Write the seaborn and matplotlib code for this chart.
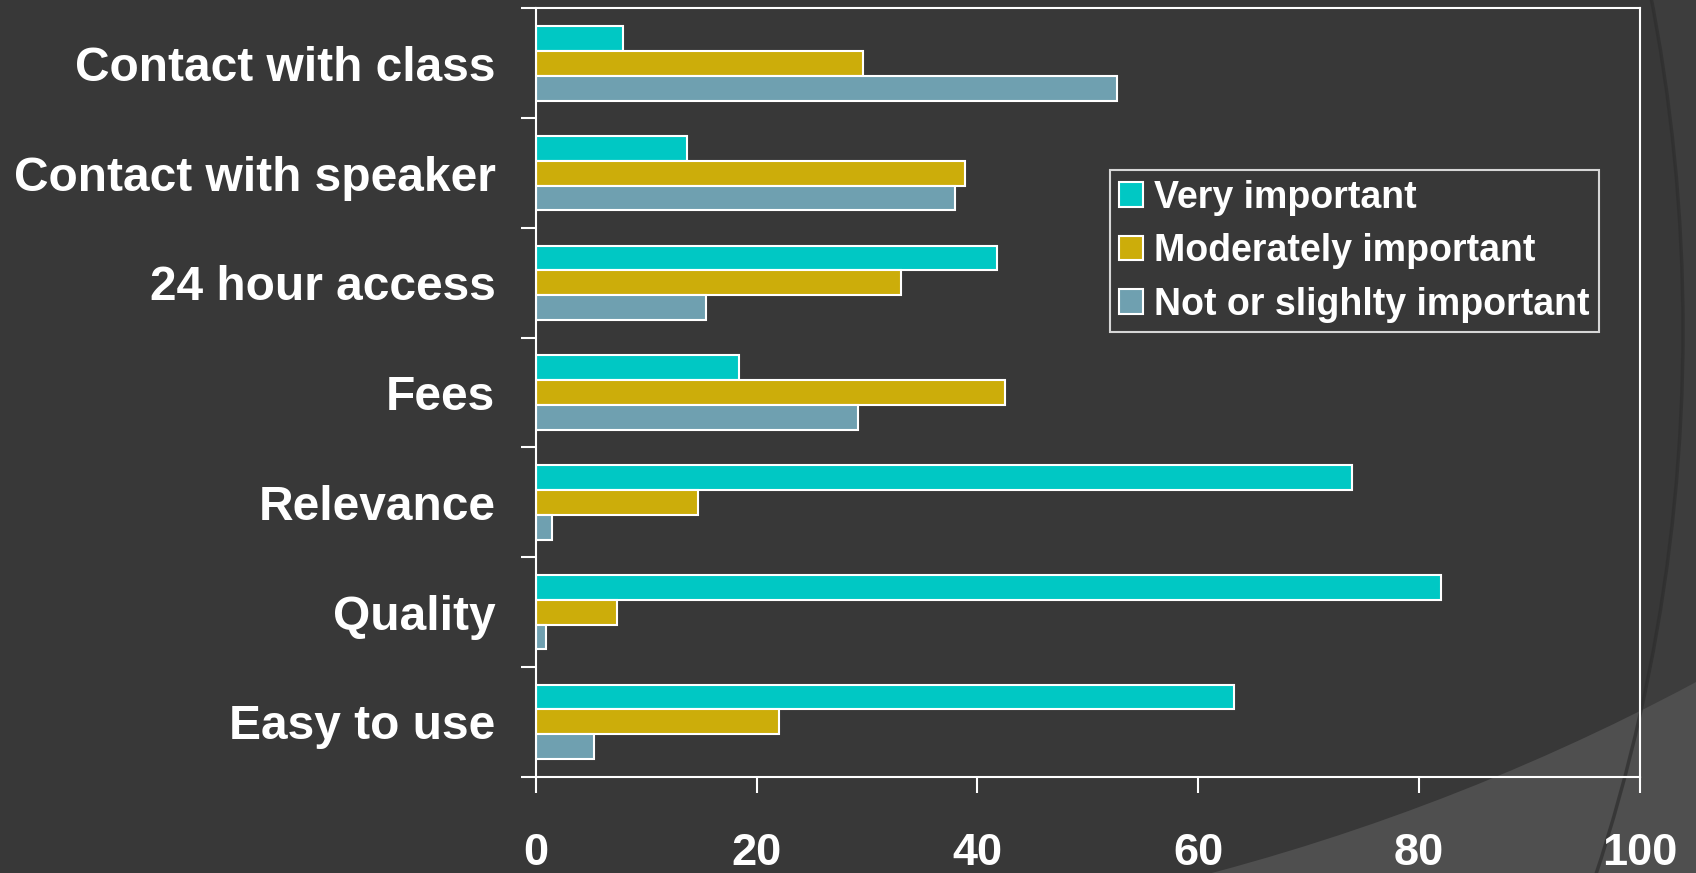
import numpy as np
import pandas as pd
import matplotlib
matplotlib.use('Agg')
import matplotlib.pyplot as plt
import matplotlib.patches as mpatches
import matplotlib.transforms as mtransforms
from matplotlib.ticker import FixedLocator
import seaborn as sns

# Survey data: importance of features (percent of respondents)
factors = ['Contact with class', 'Contact with speaker', '24 hour access',
           'Fees', 'Relevance', 'Quality', 'Easy to use']
ratings = ['Very important', 'Moderately important', 'Not or slighlty important']
very_important = [7.9, 13.7, 41.8, 18.4, 73.9, 82.0, 63.2]
moderately_important = [29.6, 38.9, 33.1, 42.5, 14.7, 7.4, 22.0]
not_important = [52.6, 38.0, 15.4, 29.2, 1.5, 0.9, 5.3]
x_ticks = [0, 20, 40, 60, 80, 100]
colors = ['#00C8C4', '#CCAD0A', '#6FA0B0']

df = pd.DataFrame({
    'factor': factors * 3,
    'rating': np.repeat(ratings, len(factors)),
    'value': very_important + moderately_important + not_important,
})

sns.set_theme(style='dark')
plt.rcParams['font.family'] = ['Liberation Sans', 'DejaVu Sans']
plt.rcParams['font.weight'] = 'bold'

W, H = 1696, 873
fig = plt.figure(figsize=(W / 100, H / 100), dpi=100, facecolor='#383838')

# slide background decoration (pixel coordinates, y up)
px = mtransforms.Affine2D().scale(1 / W, 1 / H) + fig.transFigure
fig.add_artist(mpatches.Wedge((-63, 543), 4000, -60, 60, width=4000 - 1746,
                              facecolor='#3d3d3d', edgecolor='none',
                              transform=px, zorder=-3))
fig.add_artist(mpatches.Wedge((631, 2182), 6000, -90, -30, width=6000 - 2258,
                              facecolor='#4f4f4f', edgecolor='none',
                              transform=px, zorder=-2))
fig.add_artist(mpatches.Circle((-63, 543), 1746, facecolor='none',
                               edgecolor='#2e2e2e', linewidth=2.5, alpha=0.7,
                               transform=px, zorder=-1))

ax = fig.add_axes([0.3159, 0.1103, 0.6511, 0.88])
ax.set_facecolor('none')

sns.barplot(data=df, x='value', y='factor', hue='rating', orient='h',
            order=factors, hue_order=ratings, palette=colors,
            width=0.68, edgecolor='white', linewidth=1.5,
            errorbar=None, saturation=1, ax=ax)

ax.set_xlim(0, 100)
ax.set_ylim(len(factors) - 0.5, -0.5)
ax.set_xlabel('')
ax.set_ylabel('')
ax.grid(False)

for side in ['left', 'right', 'top', 'bottom']:
    ax.spines[side].set_visible(True)
    ax.spines[side].set_color('white')
    ax.spines[side].set_linewidth(1.5)

ax.set_xticks(x_ticks)
ax.set_xticklabels([str(t) for t in x_ticks], fontsize=32.5, fontweight='bold', color='white')
ax.tick_params(axis='x', which='major', direction='out', length=11.5, width=1.5,
               color='white', pad=29, bottom=True)

ax.set_yticks(range(len(factors)))
ax.set_yticklabels(factors, fontsize=34.5, fontweight='bold', color='white')
ax.tick_params(axis='y', which='major', length=0, pad=29, left=True)
ax.yaxis.set_minor_locator(FixedLocator(np.arange(-0.5, len(factors), 1.0)))
ax.tick_params(axis='y', which='minor', direction='out', length=11, width=1.5,
               color='white', left=True)

handles, labels = ax.get_legend_handles_labels()
if ax.get_legend() is not None:
    ax.get_legend().remove()
leg = fig.legend(handles, labels, loc='upper left', bbox_to_anchor=(0.6545, 0.805),
                 bbox_transform=fig.transFigure, frameon=True, fancybox=False,
                 facecolor='none', edgecolor='white', fontsize=27,
                 handlelength=0.64, handleheight=0.64, handletextpad=0.29,
                 labelspacing=0.47, borderpad=0.25, borderaxespad=0)
leg.get_frame().set_linewidth(1.5)
for txt in leg.get_texts():
    txt.set_color('white')
    txt.set_fontweight('bold')

fig.savefig('out.png', dpi=100, facecolor=fig.get_facecolor())
